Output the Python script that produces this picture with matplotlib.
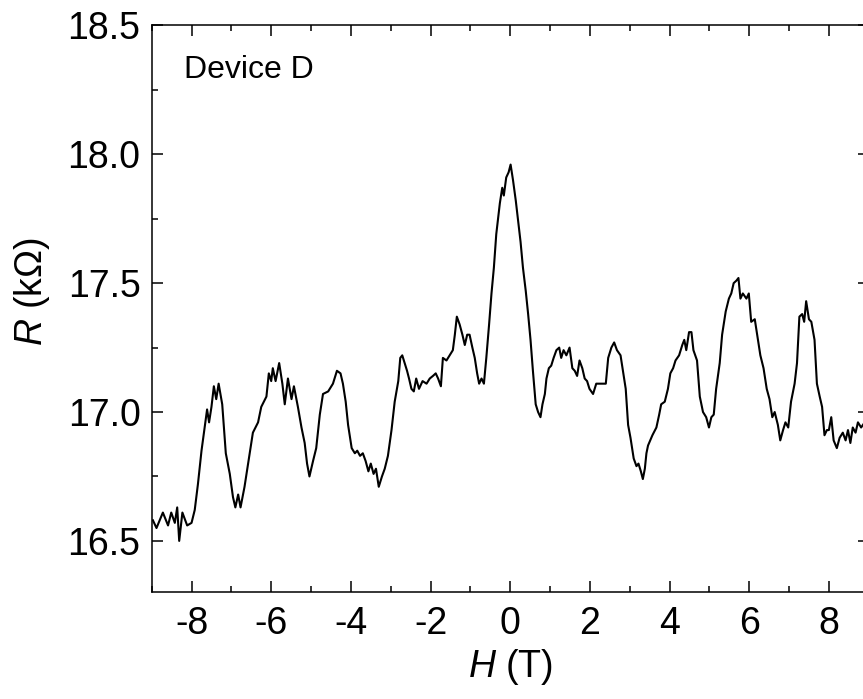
import matplotlib
matplotlib.use("Agg")
import matplotlib.pyplot as plt
from matplotlib.ticker import MultipleLocator

# magnetoresistance trace
field_T = [
    -8.97, -8.88, -8.72, -8.59, -8.51, -8.42, -8.36, -8.31, -8.23, -8.11,
    -8.00, -7.92, -7.84, -7.75, -7.67, -7.61, -7.56, -7.50, -7.44, -7.38,
    -7.32, -7.23, -7.14, -7.04, -6.96, -6.90, -6.83, -6.77, -6.67, -6.58,
    -6.46, -6.33, -6.25, -6.12, -6.06, -6.00, -5.96, -5.89, -5.80, -5.72,
    -5.66, -5.58, -5.49, -5.43, -5.33, -5.24, -5.16, -5.10, -5.04, -4.95,
    -4.87, -4.78, -4.70, -4.57, -4.45, -4.35, -4.26, -4.20, -4.13, -4.07,
    -3.98, -3.90, -3.84, -3.77, -3.70, -3.63, -3.56, -3.50, -3.43, -3.37,
    -3.30, -3.22, -3.15, -3.07, -2.98, -2.90,
    -2.81, -2.76, -2.71, -2.65, -2.59, -2.54, -2.48, -2.42, -2.36, -2.29,
    -2.20, -2.10, -2.02, -1.94, -1.87, -1.81, -1.74, -1.69, -1.60, -1.52,
    -1.44, -1.39, -1.34, -1.27, -1.20, -1.14, -1.08, -1.02, -0.95, -0.89,
    -0.83, -0.78, -0.72, -0.66, -0.60, -0.53, -0.47, -0.41, -0.35, -0.26,
    -0.20, -0.16, -0.10, -0.04, 0.01, 0.07, 0.14, 0.20, 0.26, 0.32,
    0.39, 0.45, 0.51, 0.57, 0.64, 0.70, 0.76, 0.81, 0.87, 0.91,
    0.97, 1.03, 1.09, 1.16, 1.23, 1.28, 1.34, 1.41, 1.49, 1.56,
    1.62, 1.68, 1.74, 1.81, 1.87, 1.93, 1.99, 2.08, 2.16, 2.25,
    2.33, 2.40, 2.46, 2.54, 2.61, 2.68, 2.77, 2.83, 2.90, 2.96,
    3.02, 3.10, 3.17, 3.22, 3.28, 3.33, 3.38, 3.42, 3.46, 3.57, 3.67, 3.74, 3.79,
    3.88, 3.96, 4.02, 4.09, 4.15, 4.24, 4.32, 4.37, 4.42, 4.49,
    4.55, 4.60, 4.69, 4.76, 4.84, 4.92, 4.99, 5.05, 5.11, 5.17,
    5.26, 5.32, 5.41, 5.49, 5.55, 5.61, 5.68, 5.73, 5.78, 5.84,
    5.93, 5.99, 6.05, 6.14, 6.22, 6.28, 6.36, 6.44, 6.51, 6.58,
    6.64, 6.72, 6.78, 6.85, 6.91, 6.98, 7.05, 7.14, 7.20, 7.26,
    7.33, 7.38, 7.43, 7.50, 7.56, 7.64, 7.70, 7.77, 7.83, 7.89,
    7.95, 8.00, 8.06, 8.12, 8.20, 8.27, 8.35, 8.42, 8.48, 8.54,
    8.60, 8.67, 8.73, 8.81, 8.90,
]
resistance_kohm = [
    16.58, 16.55, 16.61, 16.56, 16.61, 16.57, 16.63, 16.50, 16.61, 16.56,
    16.57, 16.62, 16.72, 16.85, 16.94, 17.01, 16.96, 17.02, 17.10, 17.05,
    17.11, 17.03, 16.84, 16.76, 16.67, 16.63, 16.68, 16.63, 16.71, 16.80,
    16.92, 16.96, 17.02, 17.06, 17.15, 17.12, 17.17, 17.12, 17.19, 17.11,
    17.03, 17.13, 17.05, 17.10, 17.02, 16.94, 16.88, 16.80, 16.75, 16.81,
    16.86, 16.99, 17.07, 17.08, 17.11, 17.16, 17.15, 17.11, 17.04, 16.95,
    16.86, 16.84, 16.85, 16.83, 16.84, 16.81, 16.77, 16.80, 16.76, 16.78,
    16.71, 16.75, 16.78, 16.83, 16.93, 17.04,
    17.12, 17.21, 17.22, 17.19, 17.16, 17.13, 17.09, 17.08, 17.13, 17.09,
    17.12, 17.11, 17.13, 17.14, 17.15, 17.13, 17.10, 17.21, 17.20, 17.22,
    17.24, 17.30, 17.37, 17.34, 17.30, 17.26, 17.30, 17.30, 17.25, 17.21,
    17.15, 17.11, 17.13, 17.11, 17.21, 17.34, 17.46, 17.56, 17.69, 17.81,
    17.87, 17.84, 17.91, 17.93, 17.96, 17.90, 17.82, 17.74, 17.66, 17.56,
    17.47, 17.38, 17.28, 17.16, 17.03, 17.00, 16.98, 17.03, 17.07, 17.13,
    17.17, 17.18, 17.21, 17.24, 17.25, 17.21, 17.24, 17.22, 17.25, 17.17,
    17.16, 17.14, 17.20, 17.17, 17.13, 17.12, 17.09, 17.07, 17.11, 17.11,
    17.11, 17.11, 17.21, 17.25, 17.27, 17.24, 17.22, 17.16, 17.09, 16.95,
    16.90, 16.82, 16.79, 16.80, 16.77, 16.74, 16.78, 16.84, 16.87, 16.91, 16.94, 16.99, 17.03,
    17.04, 17.09, 17.15, 17.17, 17.20, 17.22, 17.26, 17.28, 17.24, 17.31,
    17.31, 17.24, 17.20, 17.06, 17.00, 16.98, 16.94, 16.98, 16.99, 17.09,
    17.19, 17.30, 17.39, 17.44, 17.46, 17.50, 17.51, 17.52, 17.44, 17.46,
    17.44, 17.46, 17.35, 17.36, 17.28, 17.22, 17.17, 17.09, 17.05, 16.98,
    17.00, 16.95, 16.89, 16.93, 16.96, 16.94, 17.04, 17.11, 17.19, 17.37,
    17.38, 17.35, 17.43, 17.36, 17.35, 17.28, 17.11, 17.06, 17.02, 16.91,
    16.93, 16.93, 16.98, 16.89, 16.86, 16.90, 16.92, 16.89, 16.93, 16.88,
    16.94, 16.92, 16.96, 16.94, 16.96,
]

plt.rcParams['font.family'] = ['Liberation Sans', 'DejaVu Sans']
plt.rcParams['mathtext.fontset'] = 'custom'
plt.rcParams['mathtext.it'] = 'Liberation Sans:italic'
plt.rcParams['mathtext.rm'] = 'Liberation Sans'

fig = plt.figure(figsize=(8.63, 6.99), dpi=100)
ax = fig.add_axes([0.1758, 0.1524, 0.8308, 0.8113])

ax.plot(field_T, resistance_kohm, color='black', lw=1.5)

ax.set_xlim(-9, 9)
ax.set_ylim(16.3, 18.5)
ax.xaxis.set_major_locator(MultipleLocator(2))
ax.xaxis.set_minor_locator(MultipleLocator(1))
ax.yaxis.set_major_locator(MultipleLocator(0.5))
ax.yaxis.set_minor_locator(MultipleLocator(0.25))
ax.yaxis.set_major_formatter(plt.FormatStrFormatter('%.1f'))
ax.xaxis.set_major_formatter(plt.FuncFormatter(lambda v, p: f"{int(round(v))}"))

ax.tick_params(which='both', direction='in', top=True, right=True, width=1.1)
ax.tick_params(which='major', length=7.7, labelsize=27)
ax.tick_params(which='minor', length=4.3)
ax.tick_params(axis='x', which='major', pad=10)
ax.tick_params(axis='y', which='major', pad=8)
for s in ax.spines.values():
    s.set_linewidth(1.1)

ax.set_xlabel(r'$H$ (T)', fontsize=27, labelpad=3)
ax.set_ylabel(r'$R$ (k$\Omega$)', fontsize=27)
ax.yaxis.set_label_coords(-0.139, 0.53)

ax.text(0.045, 0.907, 'Device D', transform=ax.transAxes, fontsize=23,
        ha='left', va='baseline')

fig.savefig('out.png', dpi=100)
